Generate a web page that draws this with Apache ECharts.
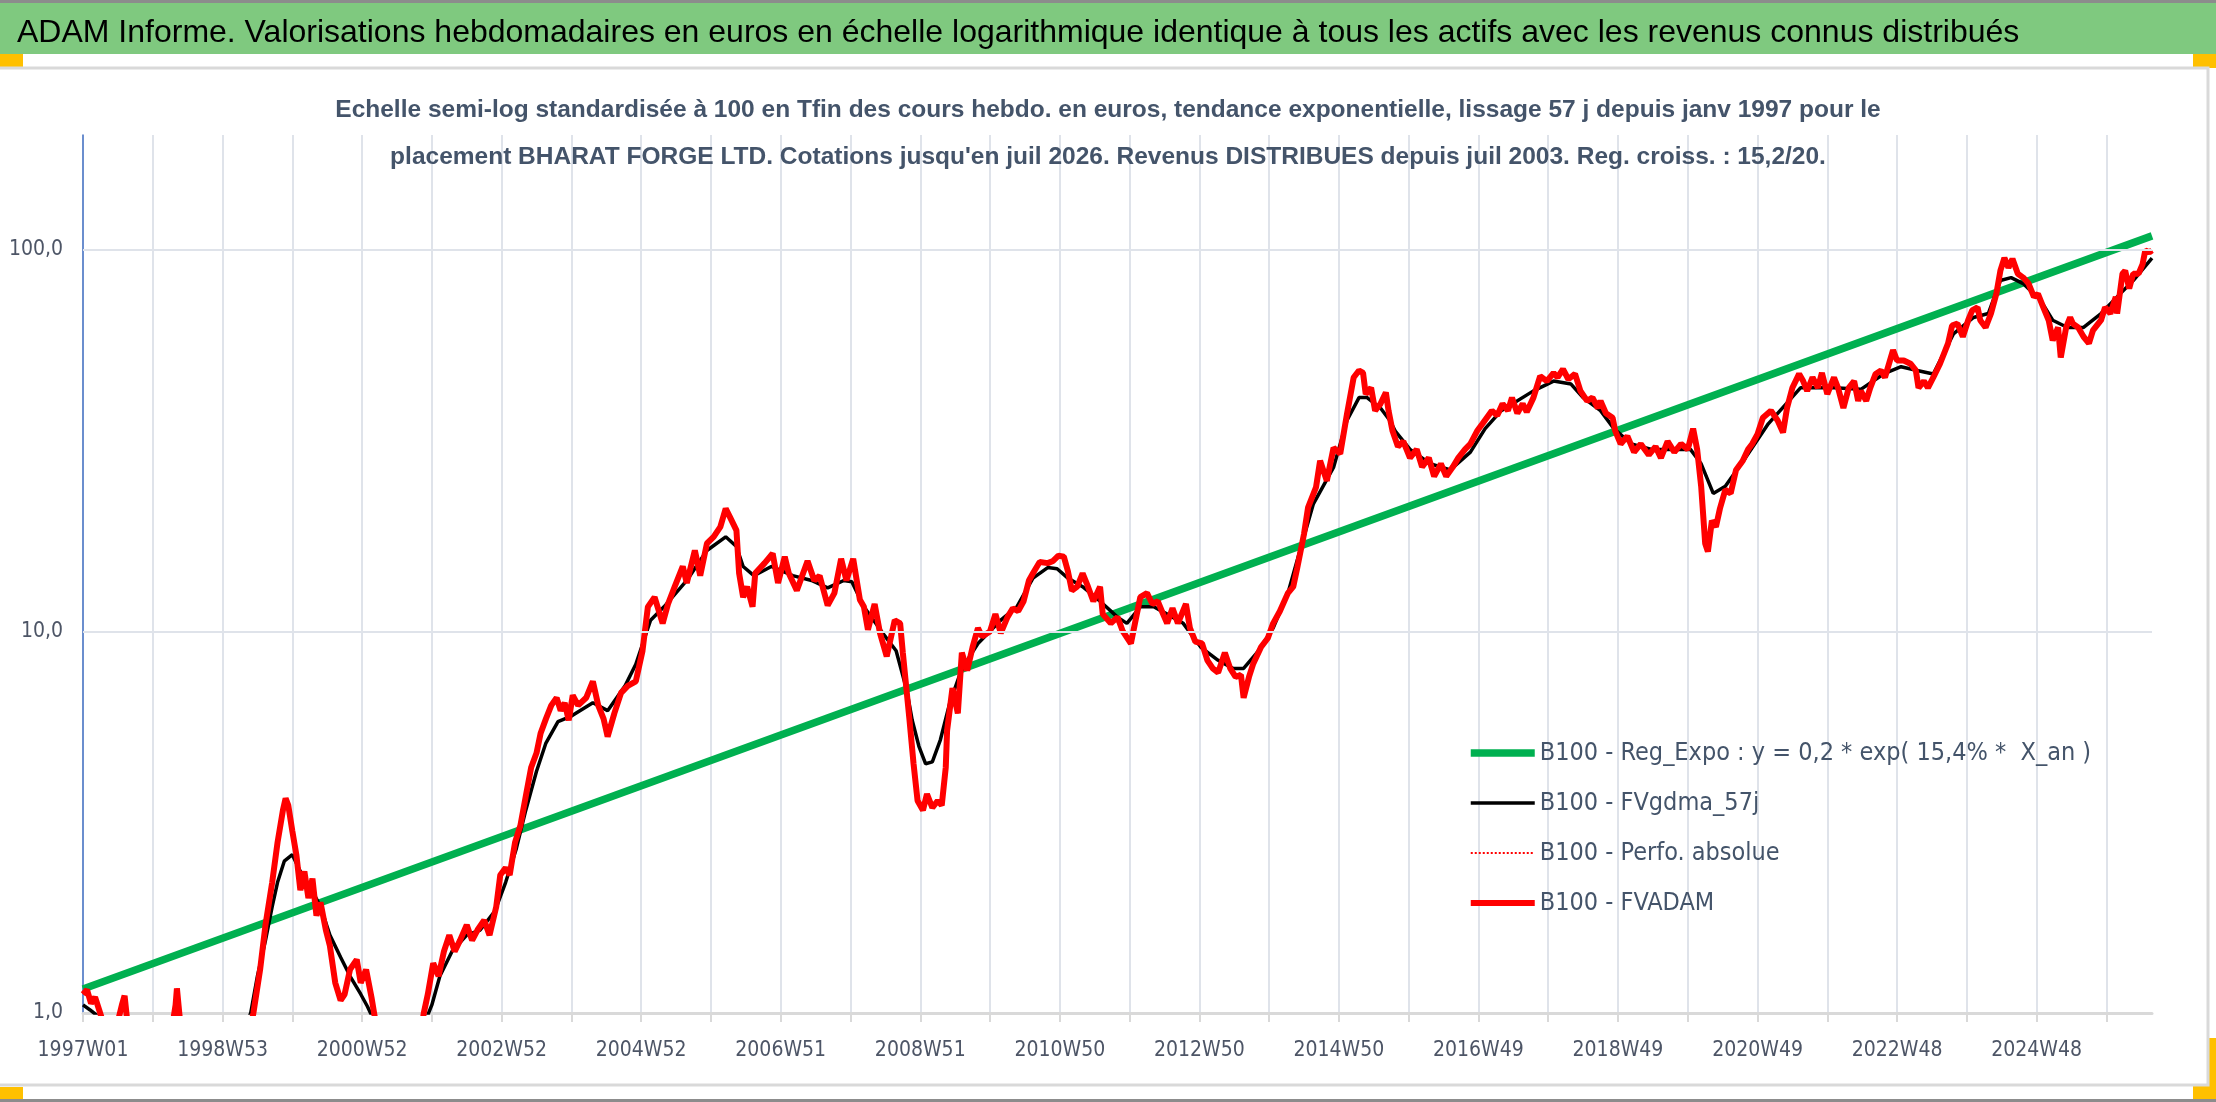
<!DOCTYPE html>
<html><head><meta charset="utf-8">
<script src="https://cdn.jsdelivr.net/npm/echarts@6/dist/echarts.min.js"></script>
<style>html,body{margin:0;padding:0;background:#fff}#c{width:2216px;height:1102px}</style>
</head><body><div id="c"></div>
<script>
// ---- text ----
const mainTitle = "ADAM Informe. Valorisations hebdomadaires en euros en échelle logarithmique identique à tous les actifs avec les revenus connus distribués";
const subLine1 = "Echelle semi-log standardisée à 100 en Tfin des cours hebdo. en euros, tendance exponentielle, lissage 57 j depuis janv 1997 pour le";
const subLine2 = "placement BHARAT FORGE LTD. Cotations jusqu'en juil 2026. Revenus DISTRIBUES depuis juil 2003. Reg. croiss. : 15,2/20.";
const seriesNames = ["B100 - Reg_Expo : y = 0,2 * exp( 15,4% *  X_an )", "B100 - FVgdma_57j", "B100 - Perfo. absolue", "B100 - FVADAM"];
const yTickValues = [1, 10, 100];

// ---- categories: ISO weeks from 1997W01 ----
const weekCount = 1543;
const categories = [];
(function(){
  const start = Date.UTC(1996, 11, 30);
  for (let i = 0; i < weekCount; i++) {
    const thu = new Date(start + (i * 7 + 3) * 86400000);
    const y = thu.getUTCFullYear();
    const doy = Math.floor((thu - Date.UTC(y, 0, 1)) / 86400000);
    const w = Math.floor(doy / 7) + 1;
    categories.push(y + "W" + (w < 10 ? "0" + w : w));
  }
})();

// ---- series values: [week index, value] ----
const greenPts = [[0, 1.156], [1542, 108.8]];

const redPts = [
[0,1.12],[3,1.15],[6,1.06],[9,1.1],[12,1.02],[16,0.92],[20,0.85],[26,0.95],[29,1.05],[31,1.11],[33,0.95],[37,0.8],[50,0.7],[65,0.85],[69,1.05],[70,1.16],[72,0.98],[76,0.8],[95,0.6],[113,0.65],[123,0.85],
[127,1.0],[132,1.3],[136,1.7],[141,2.2],[145,2.8],[149,3.4],[151,3.65],[153,3.5],[156,3.0],[159,2.6],[162,2.1],[165,2.35],[168,2.0],[171,2.25],[174,1.8],[177,1.95],[181,1.65],[184,1.5],[188,1.2],[192,1.08],[195,1.12],[199,1.3],[204,1.38],[207,1.2],[211,1.3],[215,1.1],[218,0.95],[223,0.8],[233,0.7],[244,0.75],[251,0.85],
[254,1.0],[257,1.12],[261,1.35],[265,1.25],[269,1.45],[273,1.6],[277,1.45],[281,1.55],[286,1.7],[290,1.55],[294,1.65],[299,1.75],[303,1.6],[308,1.9],[311,2.3],[315,2.4],[318,2.3],[322,2.8],[326,3.1],[330,3.7],[334,4.4],[338,4.8],[341,5.4],[345,5.9],[349,6.4],[353,6.7],[356,6.2],[359,6.5],
[362,5.85],[365,6.8],[369,6.4],[375,6.7],[380,7.4],[384,6.4],[388,5.9],[391,5.3],[396,6.1],[401,6.9],[406,7.2],[412,7.4],[417,8.9],[421,11.6],[426,12.3],[432,10.5],[436,11.8],[441,13.1],[447,14.8],[450,13.4],[456,16.3],[460,14.0],[465,17.0],[470,17.7],[475,18.8],[479,21.0],[482,20.0],[487,18.4],[489,14.2],[492,12.3],[495,13.1],[499,11.6],[501,14.2],[508,15.1],[514,16.0],[518,13.4],[523,15.7],[526,14.2],[532,12.8],[540,15.3],[545,13.6],[549,14.0],[555,11.7],[560,12.6],[565,15.5],[569,13.6],[574,15.5],[579,12.1],[582,11.6],[585,10.1],[590,11.8],[594,9.9],[599,8.6],[605,10.7],[609,10.5],[611,8.8],
[616,5.85],[619,4.5],[622,3.6],[626,3.4],[629,3.75],[633,3.45],[637,3.6],[640,3.5],[643,4.4],[644,5.5],[648,7.1],[652,6.1],[655,8.8],[659,7.9],[663,9.1],[667,10.2],[670,9.7],[676,10.0],[680,11.1],[684,9.9],[689,10.9],[693,11.5],[697,11.3],[701,12.0],[705,13.6],[708,14.2],[713,15.2],[719,15.1],[723,15.3],[727,15.8],[731,15.7],[734,14.4],[737,12.8],[741,13.1],[745,14.2],[749,13.1],[753,12.0],[758,13.1],[760,11.1],[766,10.5],[771,10.9],[775,10.0],[781,9.3],[784,10.5],[788,12.3],[793,12.6],[797,11.8],[801,12.0],[805,11.1],[808,10.5],[812,11.5],[816,10.5],[822,11.8],[825,10.2],[829,9.4],[834,9.3],[838,8.4],[842,8.0],[846,7.8],[851,8.8],[855,8.0],[859,7.6],[863,7.7],[865,6.7],[869,7.6],[872,8.2],[878,9.1],[883,9.6],[887,10.5],[892,11.3],[898,12.6],[902,13.1],[905,14.7],[910,18.0],[913,21.1],[919,23.9],[922,28.0],[927,24.8],[932,30.3],[937,29.2],[942,37.1],[947,46.3],[951,48.3],[954,47.6],[956,41.9],[960,43.5],[963,37.9],[967,39.5],[971,42.3],[973,37.9],[976,33.5],
[980,30.5],[984,31.5],[989,28.5],[994,30],[998,27],[1003,28.5],[1007,25.5],[1012,27.5],[1016,25.5],[1021,27],[1025,28.5],[1030,30],[1034,31],[1039,33.5],[1043,35],[1050,37.9],[1054,36.8],[1058,39.5],[1062,37.9],[1065,41],[1069,37.3],[1073,39.5],[1076,37.6],[1081,41],[1086,46.7],[1091,45.3],[1096,47.6],[1099,46.3],[1103,48.7],[1107,45.8],[1112,47.3],[1116,42.7],[1121,40.2],[1125,41],[1129,38.5],[1131,40.2],[1135,37.3],[1140,36.3],[1142,33.5],
[1146,31],[1151,32.5],[1156,29.5],[1161,31],[1167,29],[1172,30.5],[1176,28.5],[1181,31.5],[1186,29.5],[1191,31],[1196,30],[1200,34],[1203,30],[1206,24],[1209,17],[1211,16.2],[1214,19.5],[1217,18.8],[1220,21],[1224,23.5],[1228,23],[1232,26.5],[1237,28],[1241,30],[1244,31],[1248,32.9],
[1252,36.3],[1258,37.9],[1263,35.7],[1267,33.2],[1270,38.5],[1274,43.5],[1279,47.3],[1282,45.3],[1285,42.7],[1289,46.3],[1293,43.5],[1296,47.6],[1300,41.9],[1305,46.3],[1308,43.5],[1312,38.5],[1316,43.5],[1320,45.3],[1323,40.2],[1325,42.7],[1329,40.2],[1332,43.5],[1336,47.3],[1340,48.3],[1343,46.3],[1349,54.6],[1352,51.3],[1357,51.3],[1362,50.3],[1366,48.3],[1368,43.5],[1372,45.3],[1375,43.5],[1379,46.3],[1384,50.3],[1390,56.9],[1393,63.3],[1397,64.1],[1401,59.2],[1405,65.4],[1408,69.4],[1412,70.7],[1414,65.4],[1418,62.6],[1422,68.1],[1426,76.7],[1429,88.2],[1432,95.2],[1435,89.8],[1438,94.7],[1442,86.6],[1446,84.6],[1450,81.6],[1454,75.3],[1457,76.7],[1461,70.7],[1465,65.4],[1468,57.9],[1472,62.6],[1474,52.2],[1478,62.6],[1481,66.5],[1483,64.1],[1487,62.6],[1491,59.2],[1495,56.9],[1498,61.5],[1504,65.4],[1507,70.7],[1511,68.1],[1515,75.3],[1516,68.1],[1520,86.6],[1522,88.2],[1525,79.2],[1528,86.6],[1532,86.6],[1535,91.8],[1537,99.7],[1540,98.5],[1542,99.7]
];

const blackPts = [
[0,1.05],[5,1.02],[13,0.97],[35,0.85],[72,0.8],[110,0.75],[120,0.9],[125,1.0],[130,1.25],[136,1.55],[141,1.9],[145,2.2],[150,2.5],[156,2.6],[162,2.35],[169,2.15],[177,1.9],[184,1.6],[192,1.4],[199,1.25],[207,1.12],[212,1.04],[216,0.97],[229,0.8],[244,0.8],[255,0.95],[260,1.05],[266,1.25],[275,1.45],[286,1.6],[296,1.65],[307,1.85],[315,2.2],[323,2.7],[330,3.4],[338,4.3],[345,5.1],[354,5.8],[364,6.0],[380,6.5],[391,6.2],[404,7.2],[412,8.2],[423,10.7],[433,11.6],[450,13.6],[465,16.3],[479,17.7],[487,16.7],[492,14.8],[500,14.0],[513,14.8],[529,14.0],[543,13.6],[555,13.0],[567,13.6],[573,13.5],[582,11.6],[596,9.9],[606,8.9],[614,7.0],[618,5.85],[623,5.0],[628,4.5],[633,4.55],[639,5.2],[646,6.5],[654,7.8],[659,8.4],[667,9.3],[684,10.7],[696,11.6],[708,13.8],[719,14.7],[726,14.6],[734,13.8],[745,13.1],[758,12.0],[771,10.9],[778,10.5],[788,11.6],[798,11.6],[808,11.1],[820,10.5],[833,9.1],[846,8.4],[857,8.0],[865,8.0],[875,8.8],[887,10.2],[898,12.6],[907,16.3],[917,21.6],[932,26.9],[942,35.7],[951,41],[957,41],[967,38.5],[974,35.7],[978,33.5],[989,30],[1004,27.5],[1019,26.5],[1034,29.5],[1045,34],[1057,37.9],[1081,42.7],[1096,45.3],[1109,44.5],[1118,41],[1131,37.9],[1141,34],[1154,31],[1169,30],[1184,30],[1198,30],[1206,27.5],[1215,23],[1224,24],[1239,28.5],[1256,35],[1280,43.5],[1305,43.5],[1325,43.1],[1342,47.3],[1355,49.4],[1367,48.3],[1379,47.3],[1394,60.2],[1409,66.5],[1420,68.1],[1429,83.1],[1437,84.6],[1446,81.6],[1459,73.7],[1468,65.4],[1479,62.6],[1491,62.6],[1504,68.1],[1516,75.3],[1528,83.1],[1542,95.2]
];

// ---- styling ----
const COND = "'DejaVu Sans Condensed','DejaVu Sans',sans-serif";
const SANS = "'Liberation Sans',Arial,sans-serif";
const gridColor = '#dfe3ea';
const textColor = '#44546A';
const lineSpecs = [
  {color: '#00B050', width: 7.5, type: 'solid'},
  {color: '#000000', width: 3.5, type: 'solid'},
  {color: '#FF0000', width: 2, type: 'dotted'},
  {color: '#FF0000', width: 6, type: 'solid'}
];
const seriesData = [greenPts, blackPts, redPts, redPts];

const chart = echarts.init(document.getElementById('c'), null, {renderer: 'canvas'});
chart.setOption({
  animation: false,
  backgroundColor: '#ffffff',
  graphic: [
    {type: 'rect', z: -10, shape: {x: 0, y: 0, width: 2216, height: 3}, style: {fill: '#8c8c8c'}},
    {type: 'rect', z: -10, shape: {x: 0, y: 3, width: 2216, height: 51}, style: {fill: '#7fc97f'}},
    {type: 'rect', z: -10, shape: {x: 0, y: 54, width: 23, height: 14}, style: {fill: '#FFC000'}},
    {type: 'rect', z: -10, shape: {x: 2193, y: 54, width: 23, height: 14}, style: {fill: '#FFC000'}},
    {type: 'rect', z: -9, shape: {x: -3, y: 68, width: 2211, height: 1017}, style: {fill: '#ffffff', stroke: '#d9d9d9', lineWidth: 3}},
    {type: 'rect', z: -10, shape: {x: 0, y: 1087, width: 23, height: 13}, style: {fill: '#FFC000'}},
    {type: 'rect', z: -10, shape: {x: 2193, y: 1038, width: 23, height: 62}, style: {fill: '#FFC000'}},
    {type: 'rect', z: -10, shape: {x: 0, y: 1099, width: 2216, height: 3}, style: {fill: '#8c8c8c'}}
  ],
  title: [
    {text: mainTitle, left: 12, top: 9, textStyle: {fontFamily: SANS, fontSize: 32, fontWeight: 'normal', color: '#000000', lineHeight: 38}},
    {text: subLine1 + '\n' + subLine2, left: 'center', top: 82,
     textStyle: {fontFamily: SANS, fontSize: 24.5, fontWeight: 'bold', color: textColor, lineHeight: 47}}
  ],
  legend: {
    orient: 'vertical', left: 1462, top: 730, itemWidth: 64, itemHeight: 14, itemGap: 14,
    data: seriesNames.map((n, i) => ({name: n, itemStyle: {opacity: 0},
      lineStyle: {color: lineSpecs[i].color, width: lineSpecs[i].width, type: lineSpecs[i].type}})),
    textStyle: {fontFamily: COND, fontSize: 25, color: textColor, lineHeight: 36},
    selectedMode: false
  },
  grid: {left: 83, right: 64, top: 135, bottom: 89, containLabel: false},
  xAxis: {
    type: 'category', data: categories, boundaryGap: false,
    axisLine: {show: true, lineStyle: {color: '#d9d9d9', width: 3}},
    axisTick: {show: true, interval: 51, length: 9, lineStyle: {color: '#d9d9d9', width: 2}},
    splitLine: {show: true, interval: 51, lineStyle: {color: gridColor, width: 2}},
    axisLabel: {interval: 103, margin: 27, fontFamily: COND, fontSize: 21, color: '#4d5566'}
  },
  yAxis: {
    type: 'log', logBase: 10, min: 1, max: 200,
    axisLine: {show: true, lineStyle: {color: '#4472C4', width: 1.5}},
    axisTick: {show: false},
    splitLine: {show: false},
    axisLabel: {margin: 20, fontFamily: COND, fontSize: 21, color: '#4d5566', showMaxLabel: false,
      formatter: function (v) {
        const r = Math.round(v * 1000) / 1000;
        return yTickValues.indexOf(r) >= 0 ? r.toFixed(1).replace('.', ',') : '';
      }}
  },
  series: [
    {name: 'gridlines', type: 'line', data: greenPts, z: 1, symbol: 'none', silent: true,
     lineStyle: {opacity: 0, width: 0},
     markLine: {silent: true, symbol: ['none', 'none'], label: {show: false},
       lineStyle: {color: gridColor, width: 2, type: 'solid'},
       data: yTickValues.slice(1).map(v => ({yAxis: v}))}}
  ].concat(seriesNames.map((n, i) => ({
    name: n, type: 'line', data: seriesData[i], symbol: 'none', showSymbol: false,
    lineStyle: {color: lineSpecs[i].color, width: lineSpecs[i].width, type: lineSpecs[i].type},
    itemStyle: {color: lineSpecs[i].color}
  })))
});
</script></body></html>
